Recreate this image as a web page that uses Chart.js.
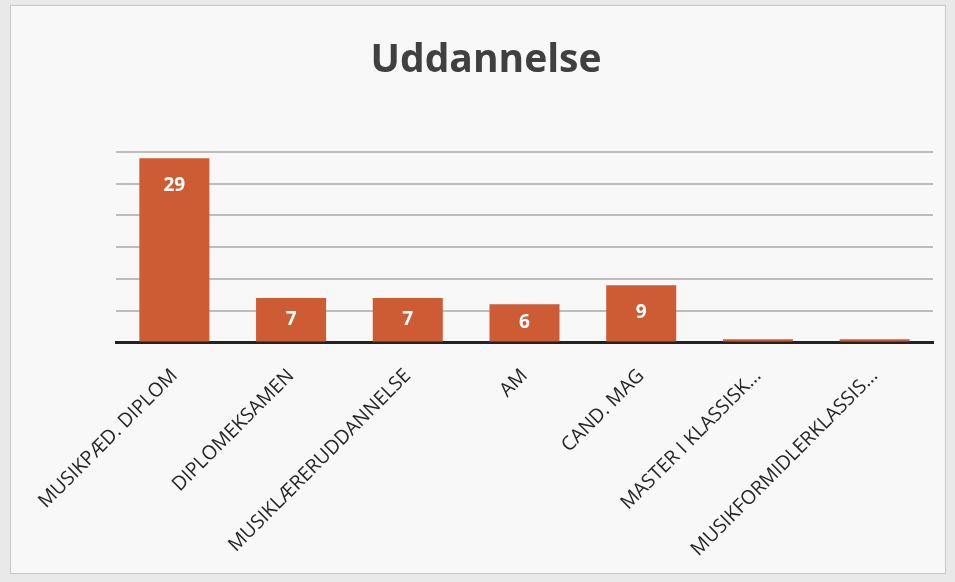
<!DOCTYPE html>
<html>
<head>
<meta charset="utf-8">
<script src="https://cdn.jsdelivr.net/npm/chart.js@4/dist/chart.umd.min.js"></script>
<style>
  html, body { margin: 0; padding: 0; background: #e9e9e9; overflow: hidden; }
  #frame {
    position: absolute; left: 10px; top: 5px; width: 934px; height: 567px;
    background: #f8f8f8; border: 1px solid #c8c8c8;
  }
  canvas { display: block; position: absolute; left: 0; top: 0; }
</style>
</head>
<body>
<div id="frame"><canvas id="chart" width="934" height="577"></canvas></div>
<script>
// ===== DATA =====
const CATEGORIES = [
  'MUSIKPÆD. DIPLOM',
  'DIPLOMEKSAMEN',
  'MUSIKLÆRERUDDANNELSE',
  'AM',
  'CAND. MAG',
  'MASTER I KLASSISK...',
  'MUSIKFORMIDLERKLASSIS...'
];
const VALUES = [29, 7, 7, 6, 9, 0.5, 0.5];
const Y_TICKS = [0, 5, 10, 15, 20, 25, 30];

const BAR_COLOR = '#cd5c34';
const FONT = '"Open Sans", "Noto Sans", sans-serif';

// White value labels near the top of each bar
const valueLabels = {
  id: 'valueLabels',
  afterDatasetsDraw(chart) {
    const ctx = chart.ctx;
    const meta = chart.getDatasetMeta(0);
    ctx.save();
    ctx.fillStyle = '#ffffff';
    ctx.font = 'bold 19px ' + FONT;
    ctx.textAlign = 'center';
    ctx.textBaseline = 'middle';
    meta.data.forEach((bar, i) => {
      const v = VALUES[i];
      if (v < 1) return;
      const h = bar.base - bar.y;
      const y = bar.y + Math.min(27, h / 2);
      ctx.fillText(String(v), bar.x, y);
    });
    ctx.restore();
  }
};

new Chart(document.getElementById('chart'), {
  type: 'bar',
  data: {
    labels: CATEGORIES,
    datasets: [{
      data: VALUES,
      backgroundColor: BAR_COLOR,
      barPercentage: 0.6,
      categoryPercentage: 1.0
    }]
  },
  options: {
    responsive: false,
    animation: false,
    layout: { padding: { left: 28, right: 12, top: 10, bottom: 0 } },
    plugins: {
      legend: { display: false },
      tooltip: { enabled: false },
      title: {
        display: true,
        text: 'Uddannelse',
        color: '#404040',
        font: { family: FONT, size: 39, weight: 'bold' },
        padding: { top: 21, bottom: 68 }
      }
    },
    scales: {
      y: {
        min: 0, max: 30,
        afterBuildTicks(axis) { axis.ticks = Y_TICKS.map(v => ({ value: v })); },
        afterFit(axis) { axis.width = 77; },
        ticks: { display: false },
        grid: { color: '#bdbdbd', lineWidth: 2, drawTicks: false },
        border: { display: false }
      },
      x: {
        grid: { display: false, drawTicks: false },
        border: { color: '#222222', width: 3 },
        ticks: {
          color: '#262626',
          font: { family: FONT, size: 19.5 },
          minRotation: 45, maxRotation: 45,
          autoSkip: false,
          padding: 22
        }
      }
    }
  },
  plugins: [valueLabels]
});
</script>
</body>
</html>
